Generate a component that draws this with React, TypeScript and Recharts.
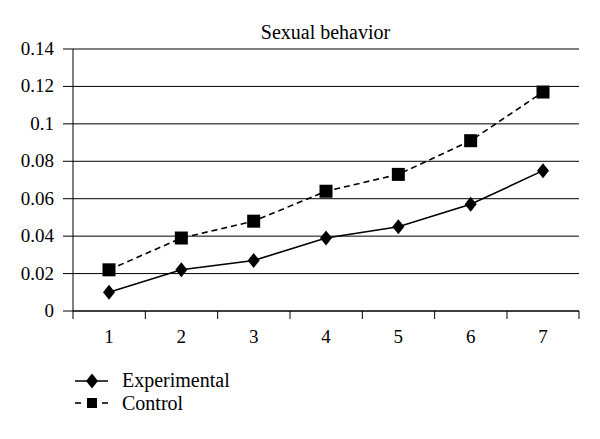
import { LineChart, Line, XAxis, YAxis, CartesianGrid } from "recharts";

const categories = ["1", "2", "3", "4", "5", "6", "7"];
const experimental = [0.01, 0.022, 0.027, 0.039, 0.045, 0.057, 0.075];
const control = [0.022, 0.039, 0.048, 0.064, 0.073, 0.091, 0.117];
const yTicks = [0, 0.02, 0.04, 0.06, 0.08, 0.1, 0.12, 0.14];

const data = categories.map((c, i) => ({
  name: c,
  experimental: experimental[i],
  control: control[i],
}));

const FONT = "Liberation Serif";
const HALF_BAND = 36;

const Diamond = (props: any) => {
  const { cx, cy } = props;
  if (cx == null || cy == null) return null;
  return (
    <path
      d={`M${cx},${cy - 7.5} L${cx + 6},${cy} L${cx},${cy + 7.5} L${cx - 6},${cy} Z`}
      fill="#000"
    />
  );
};

const Square = (props: any) => {
  const { cx, cy } = props;
  if (cx == null || cy == null) return null;
  return <rect x={cx - 6.5} y={cy - 6.5} width={13} height={13} fill="#000" />;
};

const XTick = (props: any) => {
  const { x, y, payload, index } = props;
  const axisY = y - 18;
  return (
    <g>
      <line x1={x - HALF_BAND} x2={x - HALF_BAND} y1={axisY} y2={axisY + 8} stroke="#000" />
      {index === categories.length - 1 && (
        <line x1={x + HALF_BAND} x2={x + HALF_BAND} y1={axisY} y2={axisY + 8} stroke="#000" />
      )}
      <text x={x} y={y} dy={14} textAnchor="middle" fontFamily={FONT} fontSize={19} fill="#000">
        {payload.value}
      </text>
    </g>
  );
};

const YTick = (props: any) => {
  const { x, y, payload } = props;
  return (
    <text x={x} y={y} dy={6} textAnchor="end" fontFamily={FONT} fontSize={19} fill="#000">
      {String(payload.value)}
    </text>
  );
};

export default function App() {
  return (
    <div style={{ position: "absolute", left: 0, top: 0, width: 600, height: 439, background: "#fff" }}>
      <LineChart
        width={600}
        height={439}
        data={data}
        margin={{ top: 49, right: 21, left: 0, bottom: 88 }}
      >
        <CartesianGrid vertical={false} stroke="#000" strokeWidth={1} />
        <XAxis
          dataKey="name"
          padding={{ left: HALF_BAND, right: HALF_BAND }}
          height={40}
          tickLine={false}
          tickSize={8}
          tickMargin={10}
          axisLine={{ stroke: "#000" }}
          tick={<XTick />}
          interval={0}
        />
        <YAxis
          width={73}
          domain={[0, 0.14]}
          ticks={yTicks}
          tickSize={10}
          tickMargin={9}
          tickLine={{ stroke: "#000" }}
          axisLine={{ stroke: "#000" }}
          tick={<YTick />}
          interval={0}
        />
        <YAxis
          yAxisId="right"
          orientation="right"
          width={0}
          domain={[0, 0.14]}
          tick={false}
          tickLine={false}
          axisLine={{ stroke: "#000" }}
        />
        <Line
          type="linear"
          dataKey="experimental"
          stroke="#000"
          strokeWidth={1.6}
          dot={<Diamond />}
          activeDot={false}
          isAnimationActive={false}
        />
        <Line
          type="linear"
          dataKey="control"
          stroke="#000"
          strokeWidth={1.6}
          strokeDasharray="6 4"
          dot={<Square />}
          activeDot={false}
          isAnimationActive={false}
        />
      </LineChart>
      <svg
        width={600}
        height={439}
        style={{ position: "absolute", left: 0, top: 0, pointerEvents: "none" }}
      >
        <text x={325.5} y={39} textAnchor="middle" fontFamily={FONT} fontSize={20} fill="#000">
          Sexual behavior
        </text>
        <line x1={75} x2={108} y1={381} y2={381} stroke="#000" strokeWidth={1.6} />
        <Diamond cx={92} cy={381} />
        <text x={122} y={387} fontFamily={FONT} fontSize={20} fill="#000">
          Experimental
        </text>
        <line x1={75} x2={81} y1={403} y2={403} stroke="#000" strokeWidth={1.6} />
        <line x1={102} x2={108} y1={403} y2={403} stroke="#000" strokeWidth={1.6} />
        <rect x={87} y={398} width={10} height={10} fill="#000" />
        <text x={122} y={410} fontFamily={FONT} fontSize={20} fill="#000">
          Control
        </text>
      </svg>
    </div>
  );
}
